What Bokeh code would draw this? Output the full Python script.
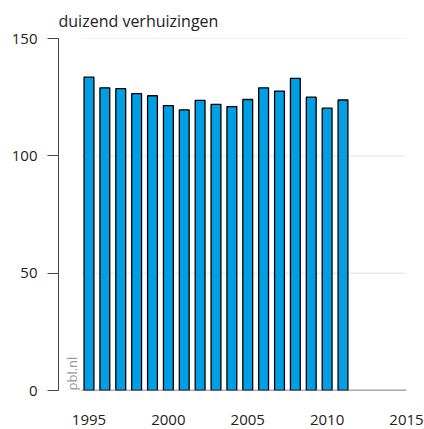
import math
from bokeh.plotting import figure
from bokeh.models import Range1d, FixedTicker, Title
from bokeh.core.properties import value
from bokeh.embed import file_html
from bokeh.resources import INLINE

years = list(range(1995, 2012))
moves = [133.5, 129.0, 128.6, 126.5, 125.6, 121.4, 119.6, 123.6, 121.9,
         121.0, 124.0, 129.0, 127.6, 133.0, 125.0, 120.3, 123.8]
y_ticks = [0, 50, 100, 150]
x_ticks = [1995, 2000, 2005, 2010, 2015]
title_text = "duizend verhuizingen"
source_text = "pbl.nl"

FONT = "Open Sans"

p = figure(width=424, height=429, output_backend="svg", toolbar_location=None,
           x_range=Range1d(1993.08, 2015.0), y_range=Range1d(0, 150),
           min_border_left=58, min_border_right=18, min_border_top=38,
           min_border_bottom=39)
p.outline_line_color = None
p.grid.visible = False
p.background_fill_color = "white"
p.border_fill_color = "white"

t = Title(text=title_text, text_font=FONT, text_font_size="16px",
          text_font_style="normal", text_color="#222222", standoff=14)
p.add_layout(t, "above")

# grid lines
gx0 = years[0] - 0.47
gx1 = x_ticks[-1]
grid_vals = [v for v in y_ticks if v > 0]
p.segment(x0=[gx0] * len(grid_vals), x1=[gx1] * len(grid_vals),
          y0=grid_vals, y1=grid_vals, line_color="#e3e3e3", line_width=1)

p.vbar(x=years, top=moves, bottom=0, width=0.62, fill_color="#009fe3",
       line_color="#000000", line_width=1.3)

# baseline
p.segment(x0=[gx0], x1=[gx1], y0=[0], y1=[0], line_color="#555555", line_width=1.5)

p.text(x=[1993.9], y=[0], text=[source_text], angle=math.pi / 2,
       text_font=value(FONT), text_font_size="13px", text_color="#9a9a9a",
       text_align="left", text_baseline="alphabetic")

ya = p.yaxis[0]
ya.ticker = FixedTicker(ticks=y_ticks)
ya.minor_tick_line_color = None
ya.major_tick_out = 11
ya.major_tick_in = 0
ya.axis_line_color = "#444444"
ya.major_tick_line_color = "#444444"
ya.major_label_standoff = 10
ya.major_label_text_font = FONT
ya.major_label_text_font_size = "15px"
ya.major_label_text_color = "#222222"

xa = p.xaxis[0]
xa.ticker = FixedTicker(ticks=x_ticks)
xa.minor_tick_line_color = None
xa.major_tick_line_color = None
xa.axis_line_color = None
xa.major_tick_out = 0
xa.major_tick_in = 0
xa.major_label_standoff = 24
xa.major_label_text_line_height = 1.0
xa.major_label_text_font = FONT
xa.major_label_text_font_size = "15px"
xa.major_label_text_color = "#222222"

open("out.html", "w").write(file_html(p, INLINE))
